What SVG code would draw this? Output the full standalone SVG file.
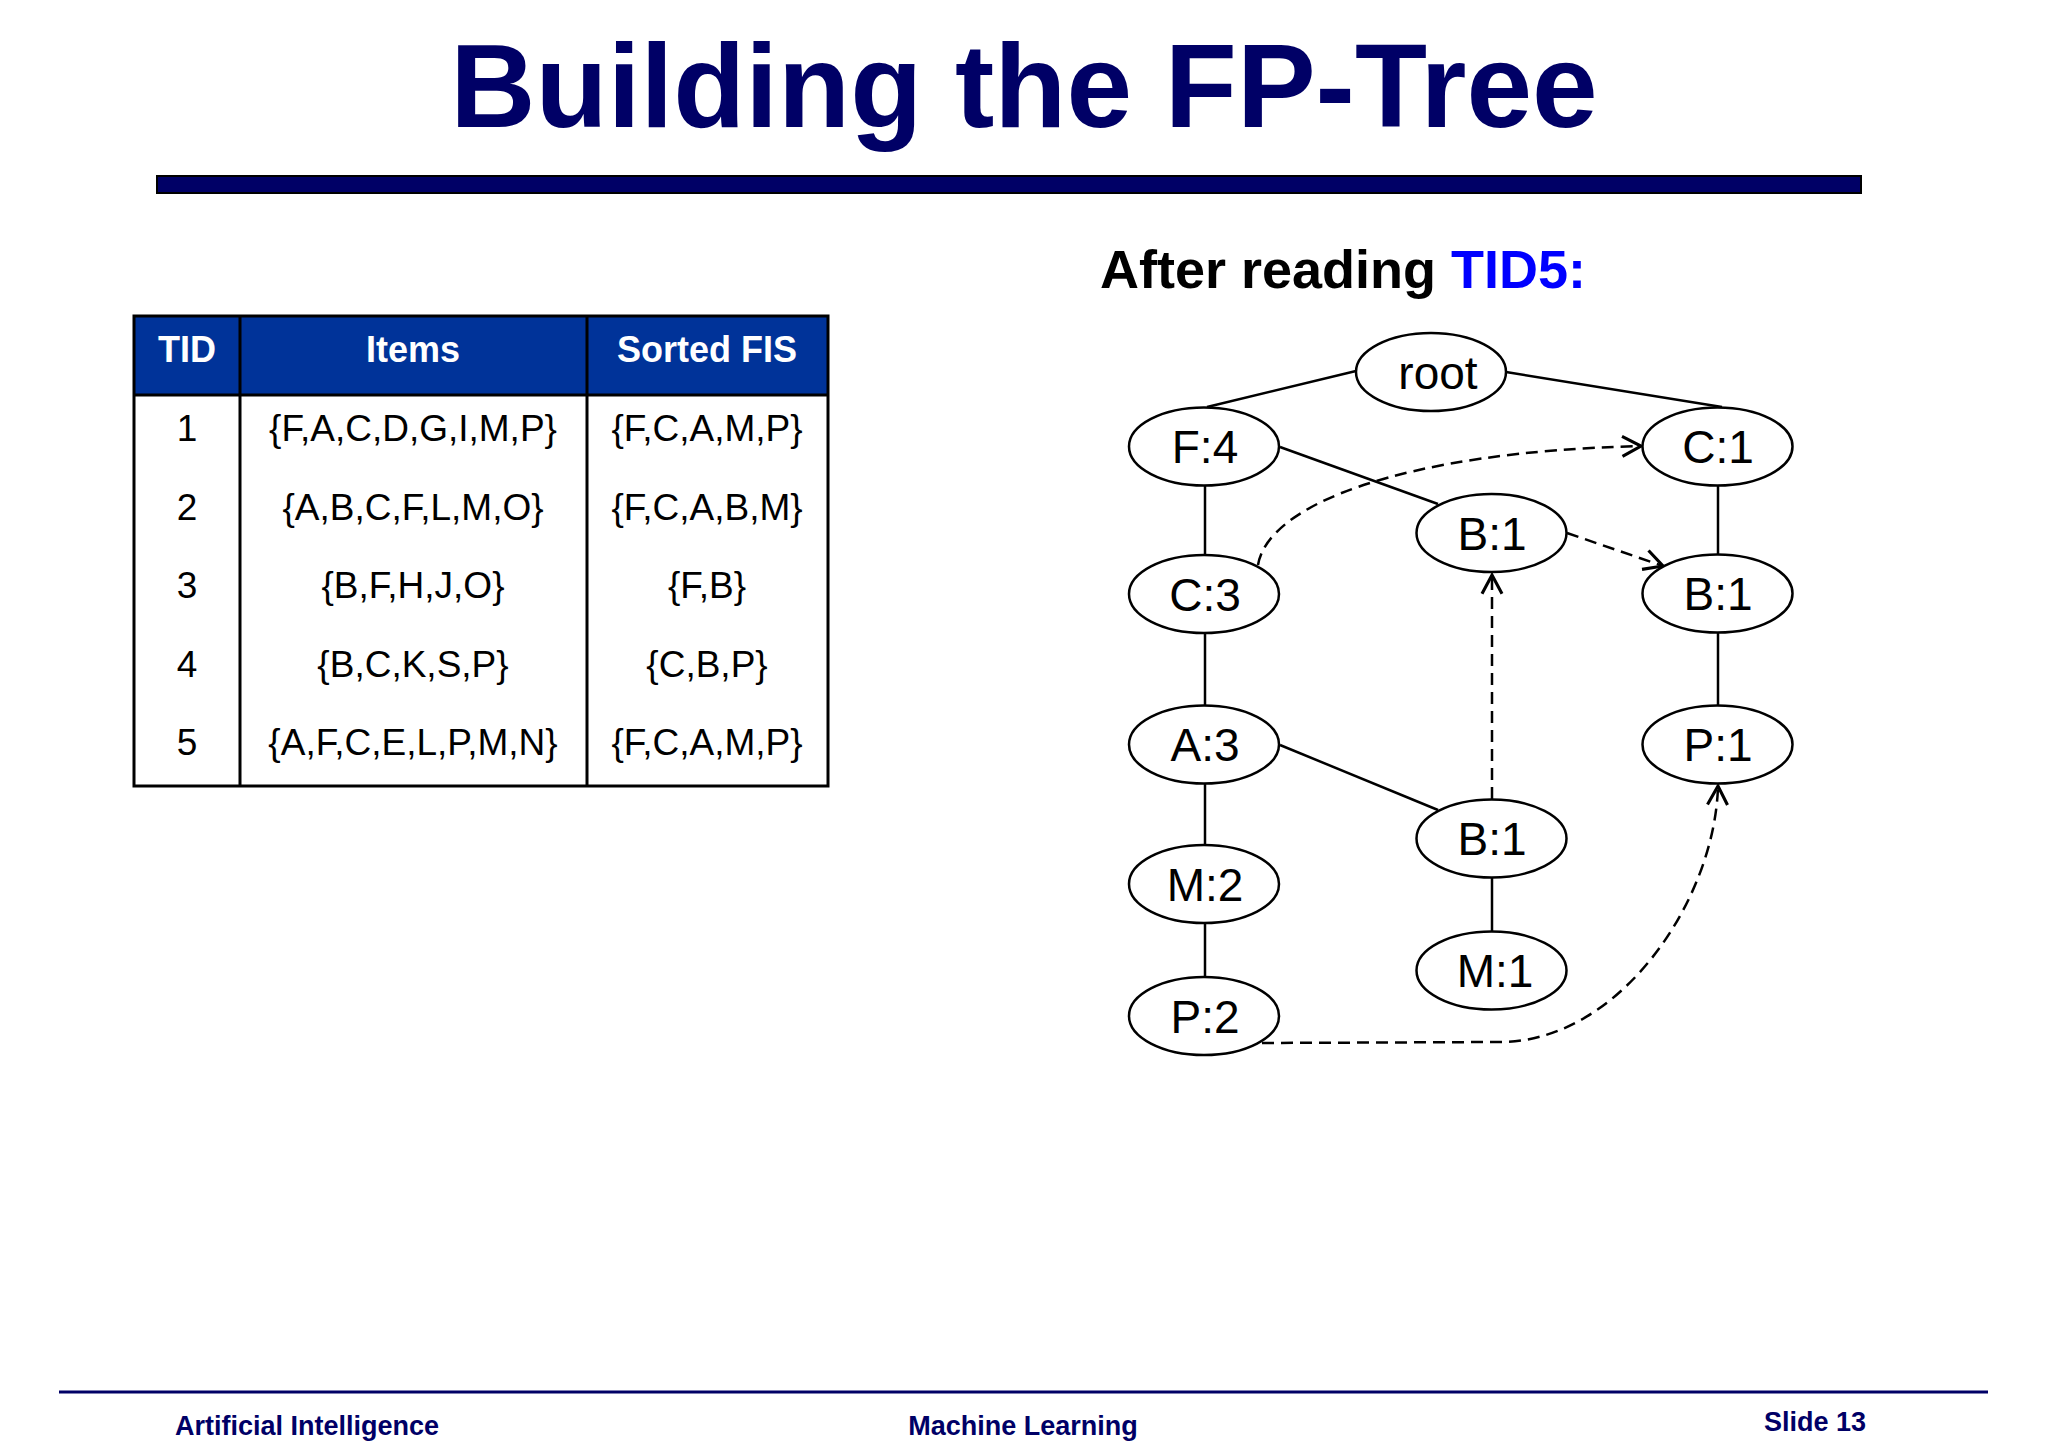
<svg xmlns="http://www.w3.org/2000/svg" width="2048" height="1448" viewBox="0 0 2048 1448">
<style>
.title{font-family:"Liberation Sans",Arial,sans-serif;font-weight:bold;font-size:118px;fill:#000066}
.sub{font-family:"Liberation Sans",Arial,sans-serif;font-weight:bold;font-size:54px;fill:#000}
.th{font-family:"Liberation Sans",Arial,sans-serif;font-weight:bold;font-size:36px;fill:#fff;text-anchor:middle}
.td{font-family:"Liberation Sans",Arial,sans-serif;font-size:37px;fill:#000;text-anchor:middle}
.foot{font-family:"Liberation Sans",Arial,sans-serif;font-weight:bold;font-size:27px;fill:#000066}
.node ellipse{fill:#fff;stroke:#000;stroke-width:2.5}
.node text{font-family:"Liberation Sans",Arial,sans-serif;font-size:46px;fill:#000;text-anchor:middle}
.edge{stroke:#000;stroke-width:2.5;fill:none}
.link{stroke:#000;stroke-width:2.5;fill:none;stroke-dasharray:12 7;marker-end:url(#open)}
</style>
<defs>
<marker id="open" markerUnits="userSpaceOnUse" markerWidth="30" markerHeight="30" viewBox="-20 -12 24 24" refX="0" refY="0" orient="auto">
<path d="M-15,-8 L0,0 L-15,8" fill="none" stroke="#000" stroke-width="2.5" stroke-dasharray="none"/>
</marker>
</defs>
<rect width="2048" height="1448" fill="#fff"/>
<text class="title" x="1024" y="127" text-anchor="middle">Building the FP-Tree</text>
<rect x="157" y="176" width="1704" height="17" fill="#000066" stroke="#000" stroke-width="2"/>
<text class="sub" x="1100" y="288">After reading <tspan fill="#0000FF">TID5:</tspan></text>
<g id="table">
<rect x="134" y="316" width="694" height="79" fill="#003399"/>
<rect x="134" y="316" width="694" height="470" fill="none" stroke="#000" stroke-width="3"/>
<line x1="134" y1="395" x2="828" y2="395" stroke="#000" stroke-width="3"/>
<line x1="240" y1="316" x2="240" y2="786" stroke="#000" stroke-width="3"/>
<line x1="587" y1="316" x2="587" y2="786" stroke="#000" stroke-width="3"/>
<text class="th" x="187" y="362">TID</text>
<text class="th" x="413" y="362">Items</text>
<text class="th" x="707" y="362">Sorted FIS</text>
<text class="td" x="187" y="441">1</text>
<text class="td" x="413" y="441">{F,A,C,D,G,I,M,P}</text>
<text class="td" x="707" y="441">{F,C,A,M,P}</text>
<text class="td" x="187" y="520">2</text>
<text class="td" x="413" y="520">{A,B,C,F,L,M,O}</text>
<text class="td" x="707" y="520">{F,C,A,B,M}</text>
<text class="td" x="187" y="598">3</text>
<text class="td" x="413" y="598">{B,F,H,J,O}</text>
<text class="td" x="707" y="598">{F,B}</text>
<text class="td" x="187" y="677">4</text>
<text class="td" x="413" y="677">{B,C,K,S,P}</text>
<text class="td" x="707" y="677">{C,B,P}</text>
<text class="td" x="187" y="755">5</text>
<text class="td" x="413" y="755">{A,F,C,E,L,P,M,N}</text>
<text class="td" x="707" y="755">{F,C,A,M,P}</text>
</g>
<g id="connectors">
<line class="edge" x1="1356" y1="371" x2="1207" y2="407"/>
<line class="edge" x1="1506" y1="372" x2="1722" y2="407"/>
<line class="edge" x1="1205" y1="486" x2="1205" y2="554"/>
<line class="edge" x1="1280" y1="447" x2="1438" y2="504"/>
<line class="edge" x1="1205" y1="633" x2="1205" y2="705"/>
<line class="edge" x1="1718" y1="486" x2="1718" y2="554"/>
<line class="edge" x1="1718" y1="633" x2="1718" y2="705"/>
<line class="edge" x1="1205" y1="784" x2="1205" y2="844"/>
<line class="edge" x1="1205" y1="923" x2="1205" y2="977"/>
<line class="edge" x1="1280" y1="745" x2="1438" y2="810"/>
<line class="edge" x1="1492" y1="878" x2="1492" y2="931"/>
<path class="link" d="M1258,565 C1268,505 1400,452 1641,446"/>
<path class="link" d="M1567,533 L1663,566"/>
<path class="link" d="M1492,799 L1492,575"/>
<path class="link" d="M1262,1043 L1500,1042 C1620,1042 1715,900 1718,786"/>
</g>
<g id="n-root" class="node"><ellipse cx="1431" cy="372" rx="75" ry="39"/><text x="1438" y="389">root</text></g>
<g id="n-f4" class="node"><ellipse cx="1204" cy="446.5" rx="75" ry="39"/><text x="1205" y="463">F:4</text></g>
<g id="n-c1" class="node"><ellipse cx="1717.5" cy="446.5" rx="75" ry="39"/><text x="1718" y="463">C:1</text></g>
<g id="n-b1a" class="node"><ellipse cx="1491.5" cy="533" rx="75" ry="39"/><text x="1492" y="550">B:1</text></g>
<g id="n-c3" class="node"><ellipse cx="1204" cy="594" rx="75" ry="39"/><text x="1205" y="611">C:3</text></g>
<g id="n-b1b" class="node"><ellipse cx="1717.5" cy="593.5" rx="75" ry="39"/><text x="1718" y="610">B:1</text></g>
<g id="n-a3" class="node"><ellipse cx="1204" cy="744.5" rx="75" ry="39"/><text x="1205" y="761">A:3</text></g>
<g id="n-p1" class="node"><ellipse cx="1717.5" cy="744.5" rx="75" ry="39"/><text x="1718" y="761">P:1</text></g>
<g id="n-b1c" class="node"><ellipse cx="1491.5" cy="838.5" rx="75" ry="39"/><text x="1492" y="855">B:1</text></g>
<g id="n-m2" class="node"><ellipse cx="1204" cy="884" rx="75" ry="39"/><text x="1205" y="901">M:2</text></g>
<g id="n-m1" class="node"><ellipse cx="1491.5" cy="970.5" rx="75" ry="39"/><text x="1495" y="987">M:1</text></g>
<g id="n-p2" class="node"><ellipse cx="1204" cy="1016" rx="75" ry="39"/><text x="1205" y="1033">P:2</text></g>
<line x1="59" y1="1392" x2="1988" y2="1392" stroke="#000066" stroke-width="3"/>
<text class="foot" x="175" y="1435">Artificial Intelligence</text>
<text class="foot" x="1023" y="1435" text-anchor="middle">Machine Learning</text>
<text class="foot" x="1764" y="1431">Slide 13</text>
</svg>
